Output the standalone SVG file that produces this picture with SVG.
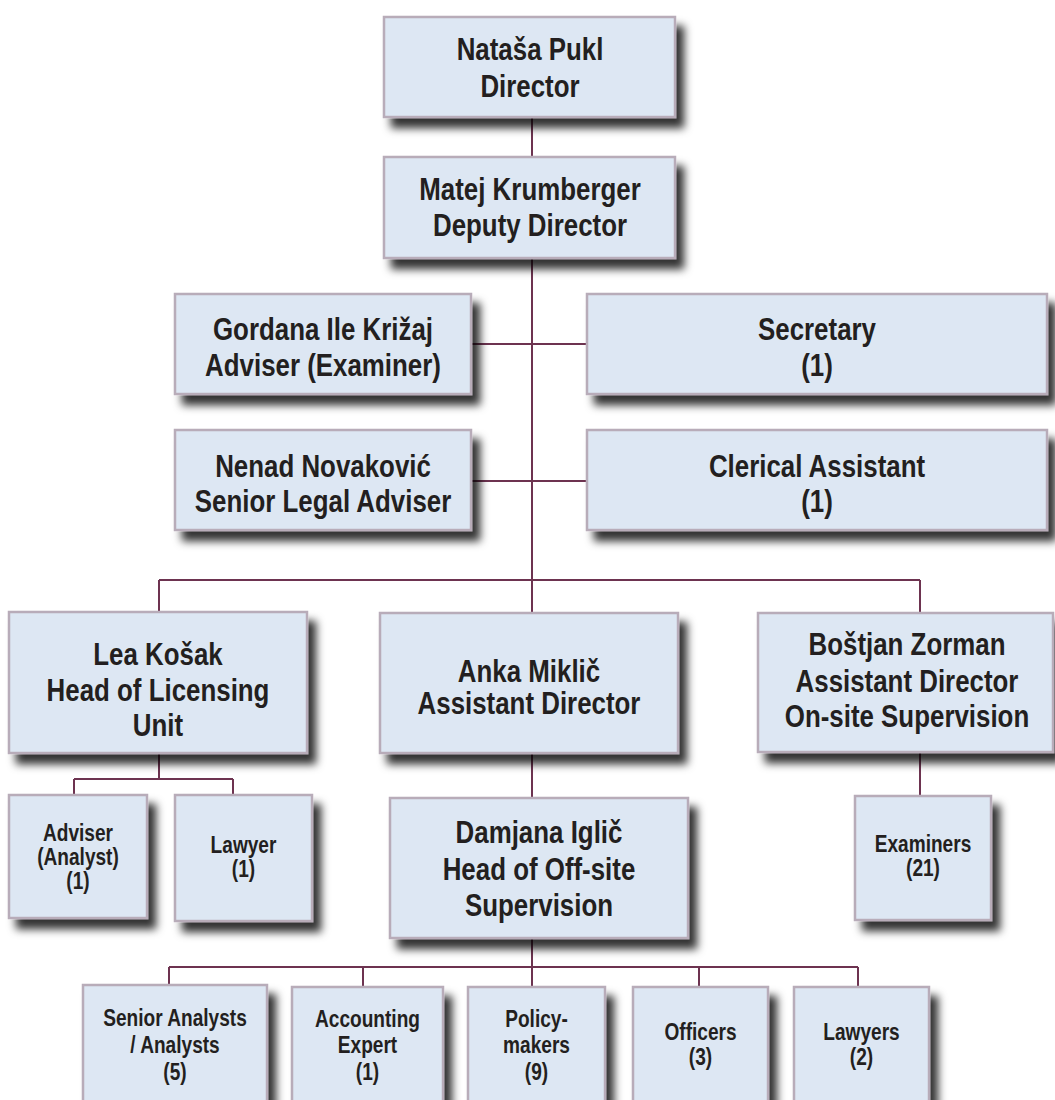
<svg xmlns="http://www.w3.org/2000/svg" width="1055" height="1100" viewBox="0 0 1055 1100">
<defs>
<filter id="sh" x="-10%" y="-10%" width="130%" height="140%">
<feDropShadow dx="8" dy="10" stdDeviation="4" flood-color="#000" flood-opacity="0.8"/>
</filter>
<style>
.box{fill:#dde7f3;stroke:#b8acb9;stroke-width:2.5;filter:url(#sh)}
.ln{fill:none;stroke:#6d3350;stroke-width:2}
text{font-family:"Liberation Sans",Arial,sans-serif;font-weight:bold;fill:#231f20;text-anchor:middle}
.L{font-size:31px}
.S{font-size:23px}
</style>
</defs>
<rect width="1055" height="1100" fill="#fff"/>
<g id="connectors">
<path class="ln" d="M532 117V157M532 258V580M471 344H587M471 481H587M159 580H920M159 580V612M532 580V613M920 580V613M159 753V779M74 779H233M74 779V795M233 779V795M532 753V798M920 752V796M532 938V967M169 967H858M169 967V985M363 967V987M532 967V987M699 967V987M858 967V987"/>
</g>
<g id="director"><rect class="box" x="384" y="17" width="291" height="100"/>
<g transform="translate(530 0) scale(0.835 1)"><text class="L" x="0" y="60">Nataša Pukl</text><text class="L" x="0" y="97">Director</text></g></g>
<g id="deputy"><rect class="box" x="384" y="157" width="291" height="101"/>
<g transform="translate(530 0) scale(0.835 1)"><text class="L" x="0" y="200">Matej Krumberger</text><text class="L" x="0" y="236">Deputy Director</text></g></g>
<g id="gordana"><rect class="box" x="175" y="294" width="296" height="100"/>
<g transform="translate(323 0) scale(0.835 1)"><text class="L" x="0" y="340">Gordana Ile Križaj</text><text class="L" x="0" y="376">Adviser (Examiner)</text></g></g>
<g id="secretary"><rect class="box" x="587" y="294" width="460" height="100"/>
<g transform="translate(817 0) scale(0.835 1)"><text class="L" x="0" y="340">Secretary</text><text class="L" x="0" y="376">(1)</text></g></g>
<g id="nenad"><rect class="box" x="175" y="430" width="296" height="100"/>
<g transform="translate(323 0) scale(0.835 1)"><text class="L" x="0" y="477">Nenad Novaković</text><text class="L" x="0" y="512">Senior Legal Adviser</text></g></g>
<g id="clerical"><rect class="box" x="587" y="430" width="460" height="100"/>
<g transform="translate(817 0) scale(0.835 1)"><text class="L" x="0" y="477">Clerical Assistant</text><text class="L" x="0" y="512">(1)</text></g></g>
<g id="lea"><rect class="box" x="9" y="612" width="298" height="141"/>
<g transform="translate(158 0) scale(0.835 1)"><text class="L" x="0" y="665">Lea Košak</text><text class="L" x="0" y="701">Head of Licensing</text><text class="L" x="0" y="736">Unit</text></g></g>
<g id="anka"><rect class="box" x="380" y="613" width="298" height="140"/>
<g transform="translate(529 0) scale(0.835 1)"><text class="L" x="0" y="682">Anka Miklič</text><text class="L" x="0" y="714">Assistant Director</text></g></g>
<g id="bostjan"><rect class="box" x="758" y="613" width="295" height="139"/>
<g transform="translate(907 0) scale(0.835 1)"><text class="L" x="0" y="655">Boštjan Zorman</text><text class="L" x="0" y="692">Assistant Director</text><text class="L" x="0" y="727">On-site Supervision</text></g></g>
<g id="adviser"><rect class="box" x="9" y="795" width="138" height="123"/>
<g transform="translate(78 0) scale(0.83 1)"><text class="S" x="0" y="841">Adviser</text><text class="S" x="0" y="865">(Analyst)</text><text class="S" x="0" y="889">(1)</text></g></g>
<g id="lawyer"><rect class="box" x="175" y="795" width="137" height="126"/>
<g transform="translate(243.5 0) scale(0.83 1)"><text class="S" x="0" y="853">Lawyer</text><text class="S" x="0" y="877">(1)</text></g></g>
<g id="damjana"><rect class="box" x="390" y="798" width="298" height="140"/>
<g transform="translate(539 0) scale(0.835 1)"><text class="L" x="0" y="843">Damjana Iglič</text><text class="L" x="0" y="880">Head of Off-site</text><text class="L" x="0" y="916">Supervision</text></g></g>
<g id="examiners"><rect class="box" x="855" y="796" width="136" height="124"/>
<g transform="translate(923 0) scale(0.83 1)"><text class="S" x="0" y="852">Examiners</text><text class="S" x="0" y="876">(21)</text></g></g>
<g id="senior"><rect class="box" x="83" y="985" width="184" height="125"/>
<g transform="translate(175 0) scale(0.83 1)"><text class="S" x="0" y="1026">Senior Analysts</text><text class="S" x="0" y="1053">/ Analysts</text><text class="S" x="0" y="1080">(5)</text></g></g>
<g id="accounting"><rect class="box" x="292" y="987" width="151" height="123"/>
<g transform="translate(367.5 0) scale(0.83 1)"><text class="S" x="0" y="1027">Accounting</text><text class="S" x="0" y="1053">Expert</text><text class="S" x="0" y="1080">(1)</text></g></g>
<g id="policy"><rect class="box" x="468" y="987" width="137" height="123"/>
<g transform="translate(536.5 0) scale(0.83 1)"><text class="S" x="0" y="1027">Policy-</text><text class="S" x="0" y="1053">makers</text><text class="S" x="0" y="1080">(9)</text></g></g>
<g id="officers"><rect class="box" x="633" y="987" width="135" height="123"/>
<g transform="translate(700.5 0) scale(0.83 1)"><text class="S" x="0" y="1040">Officers</text><text class="S" x="0" y="1065">(3)</text></g></g>
<g id="lawyers"><rect class="box" x="794" y="987" width="135" height="123"/>
<g transform="translate(861.5 0) scale(0.83 1)"><text class="S" x="0" y="1040">Lawyers</text><text class="S" x="0" y="1065">(2)</text></g></g>
</svg>
